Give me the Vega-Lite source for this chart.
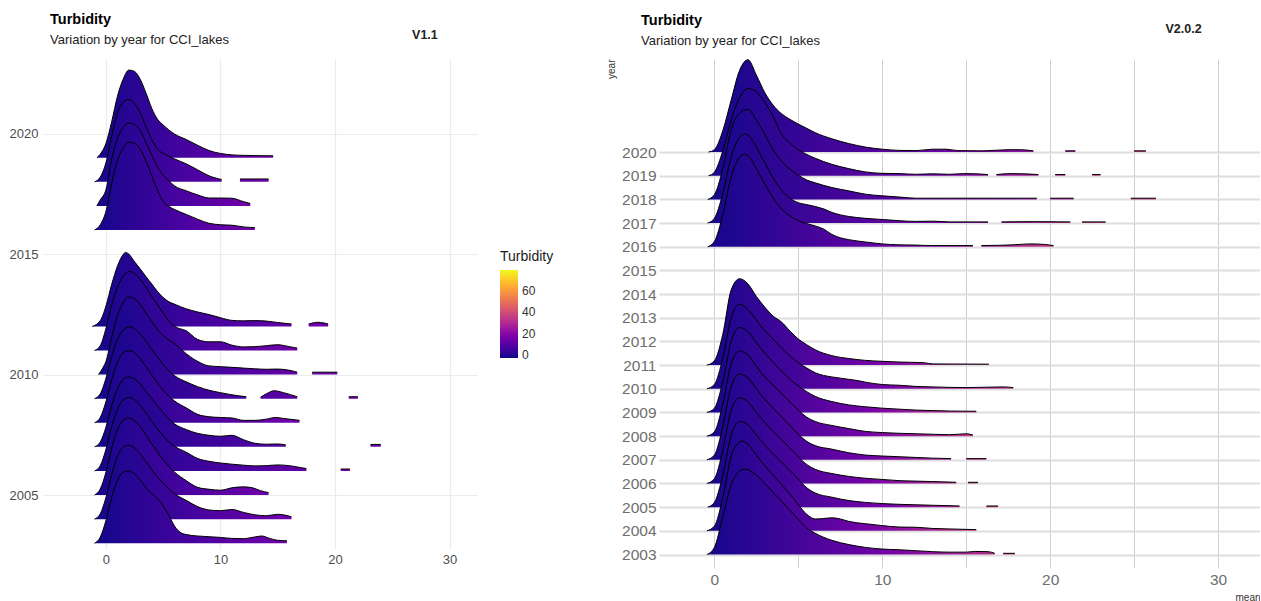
{
  "$schema": "https://vega.github.io/schema/vega-lite/v6.json",
  "background": "white",
  "padding": {"left": 9, "top": 12, "right": 0, "bottom": 0},
  "config": {
    "font": "Liberation Sans",
    "view": {"stroke": null},
    "axis": {"ticks": false, "domain": false, "labelOverlap": false},
    "title": {"color": "#000000", "subtitleColor": "#222222", "fontSize": 14.5, "subtitleFontSize": 13, "subtitlePadding": 6, "fontWeight": "bold", "subtitleFontWeight": "normal"}
  },
  "datasets": {
    "v11": [
      {"year":2019,"mean":-0.8,"top":2019},{"year":2019,"mean":-0.5,"top":2019.15},{"year":2019,"mean":0,"top":2019.6},{"year":2019,"mean":0.5,"top":2020.5},{"year":2019,"mean":1,"top":2021.55},{"year":2019,"mean":1.5,"top":2022.26},{"year":2019,"mean":2,"top":2022.64},{"year":2019,"mean":2.5,"top":2022.58},{"year":2019,"mean":3,"top":2022.25},{"year":2019,"mean":3.5,"top":2021.68},{"year":2019,"mean":4,"top":2021.05},{"year":2019,"mean":4.5,"top":2020.6},{"year":2019,"mean":5,"top":2020.36},{"year":2019,"mean":5.5,"top":2020.15},{"year":2019,"mean":6,"top":2019.98},{"year":2019,"mean":7,"top":2019.76},{"year":2019,"mean":8,"top":2019.52},{"year":2019,"mean":9,"top":2019.3},{"year":2019,"mean":10,"top":2019.18},{"year":2019,"mean":11,"top":2019.12},{"year":2019,"mean":12,"top":2019.1},{"year":2019,"mean":13,"top":2019.09},{"year":2019,"mean":14.6,"top":2019.08},
      {"year":2018,"mean":-1,"top":2018},{"year":2018,"mean":-0.5,"top":2018.2},{"year":2018,"mean":0,"top":2018.8},{"year":2018,"mean":0.5,"top":2019.9},{"year":2018,"mean":1,"top":2020.85},{"year":2018,"mean":1.5,"top":2021.3},{"year":2018,"mean":2,"top":2021.41},{"year":2018,"mean":2.5,"top":2021.25},{"year":2018,"mean":3,"top":2020.85},{"year":2018,"mean":3.5,"top":2020.28},{"year":2018,"mean":4,"top":2019.75},{"year":2018,"mean":4.5,"top":2019.36},{"year":2018,"mean":5,"top":2019.18},{"year":2018,"mean":5.5,"top":2019.06},{"year":2018,"mean":6,"top":2018.95},{"year":2018,"mean":7,"top":2018.75},{"year":2018,"mean":8,"top":2018.5},{"year":2018,"mean":9,"top":2018.25},{"year":2018,"mean":10.1,"top":2018.1},{"year":2018,"mean":10.9,"top":null},{"year":2018,"mean":11.7,"top":2018.12},{"year":2018,"mean":14.2,"top":2018.12},
      {"year":2017,"mean":-0.8,"top":2017},{"year":2017,"mean":-0.5,"top":2017.25},{"year":2017,"mean":0,"top":2017.68},{"year":2017,"mean":0.5,"top":2018.95},{"year":2017,"mean":1,"top":2019.8},{"year":2017,"mean":1.5,"top":2020.27},{"year":2017,"mean":2,"top":2020.44},{"year":2017,"mean":2.5,"top":2020.38},{"year":2017,"mean":3,"top":2020.12},{"year":2017,"mean":3.5,"top":2019.62},{"year":2017,"mean":4,"top":2019.1},{"year":2017,"mean":4.5,"top":2018.62},{"year":2017,"mean":5,"top":2018.28},{"year":2017,"mean":5.5,"top":2018.04},{"year":2017,"mean":6,"top":2017.83},{"year":2017,"mean":7,"top":2017.63},{"year":2017,"mean":8,"top":2017.46},{"year":2017,"mean":9,"top":2017.33},{"year":2017,"mean":10,"top":2017.33},{"year":2017,"mean":11,"top":2017.32},{"year":2017,"mean":12,"top":2017.18},{"year":2017,"mean":12.6,"top":2017.1},
      {"year":2016,"mean":-1,"top":2016},{"year":2016,"mean":-0.5,"top":2016.22},{"year":2016,"mean":0,"top":2016.78},{"year":2016,"mean":0.5,"top":2017.95},{"year":2016,"mean":1,"top":2018.9},{"year":2016,"mean":1.5,"top":2019.4},{"year":2016,"mean":2,"top":2019.65},{"year":2016,"mean":2.5,"top":2019.6},{"year":2016,"mean":3,"top":2019.35},{"year":2016,"mean":3.5,"top":2018.85},{"year":2016,"mean":4,"top":2018.25},{"year":2016,"mean":4.5,"top":2017.65},{"year":2016,"mean":5,"top":2017.18},{"year":2016,"mean":5.5,"top":2016.98},{"year":2016,"mean":6,"top":2016.85},{"year":2016,"mean":7,"top":2016.65},{"year":2016,"mean":8,"top":2016.45},{"year":2016,"mean":9,"top":2016.28},{"year":2016,"mean":10,"top":2016.22},{"year":2016,"mean":11,"top":2016.2},{"year":2016,"mean":12,"top":2016.13},{"year":2016,"mean":13,"top":2016.1},
      {"year":2012,"mean":-1.2,"top":2012},{"year":2012,"mean":-0.5,"top":2012.24},{"year":2012,"mean":0,"top":2012.85},{"year":2012,"mean":0.5,"top":2013.75},{"year":2012,"mean":1,"top":2014.5},{"year":2012,"mean":1.5,"top":2014.98},{"year":2012,"mean":1.7,"top":2015.07},{"year":2012,"mean":2,"top":2015},{"year":2012,"mean":2.5,"top":2014.68},{"year":2012,"mean":3,"top":2014.38},{"year":2012,"mean":3.5,"top":2014.06},{"year":2012,"mean":4,"top":2013.76},{"year":2012,"mean":4.5,"top":2013.45},{"year":2012,"mean":5,"top":2013.2},{"year":2012,"mean":5.5,"top":2013.02},{"year":2012,"mean":6,"top":2012.92},{"year":2012,"mean":7,"top":2012.73},{"year":2012,"mean":8,"top":2012.6},{"year":2012,"mean":9,"top":2012.49},{"year":2012,"mean":10,"top":2012.36},{"year":2012,"mean":11,"top":2012.25},{"year":2012,"mean":12,"top":2012.23},{"year":2012,"mean":13,"top":2012.24},{"year":2012,"mean":14,"top":2012.22},{"year":2012,"mean":15,"top":2012.16},{"year":2012,"mean":16.2,"top":2012.1},{"year":2012,"mean":17,"top":null},{"year":2012,"mean":17.7,"top":2012.1},{"year":2012,"mean":18.5,"top":2012.17},{"year":2012,"mean":19.4,"top":2012.1},
      {"year":2011,"mean":-1,"top":2011},{"year":2011,"mean":-0.5,"top":2011.2},{"year":2011,"mean":0,"top":2011.92},{"year":2011,"mean":0.5,"top":2012.9},{"year":2011,"mean":1,"top":2013.62},{"year":2011,"mean":1.5,"top":2014.08},{"year":2011,"mean":2,"top":2014.28},{"year":2011,"mean":2.5,"top":2014.2},{"year":2011,"mean":3,"top":2013.95},{"year":2011,"mean":3.5,"top":2013.62},{"year":2011,"mean":4,"top":2013.23},{"year":2011,"mean":4.5,"top":2012.9},{"year":2011,"mean":5,"top":2012.54},{"year":2011,"mean":5.5,"top":2012.21},{"year":2011,"mean":6,"top":2012},{"year":2011,"mean":7,"top":2011.82},{"year":2011,"mean":8,"top":2011.46},{"year":2011,"mean":9,"top":2011.36},{"year":2011,"mean":10,"top":2011.36},{"year":2011,"mean":11,"top":2011.22},{"year":2011,"mean":12,"top":2011.15},{"year":2011,"mean":13,"top":2011.16},{"year":2011,"mean":14,"top":2011.2},{"year":2011,"mean":15,"top":2011.24},{"year":2011,"mean":16,"top":2011.16},{"year":2011,"mean":16.7,"top":2011.1},
      {"year":2010,"mean":-0.65,"top":2010},{"year":2010,"mean":-0.25,"top":2010.3},{"year":2010,"mean":0,"top":2010.55},{"year":2010,"mean":0.5,"top":2011.54},{"year":2010,"mean":1,"top":2012.45},{"year":2010,"mean":1.5,"top":2013},{"year":2010,"mean":2,"top":2013.22},{"year":2010,"mean":2.5,"top":2013.15},{"year":2010,"mean":3,"top":2012.9},{"year":2010,"mean":3.5,"top":2012.55},{"year":2010,"mean":4,"top":2012.2},{"year":2010,"mean":4.5,"top":2011.86},{"year":2010,"mean":5,"top":2011.62},{"year":2010,"mean":5.5,"top":2011.44},{"year":2010,"mean":6,"top":2011.28},{"year":2010,"mean":7,"top":2010.87},{"year":2010,"mean":8,"top":2010.55},{"year":2010,"mean":9,"top":2010.36},{"year":2010,"mean":10,"top":2010.33},{"year":2010,"mean":11,"top":2010.3},{"year":2010,"mean":12,"top":2010.27},{"year":2010,"mean":13,"top":2010.24},{"year":2010,"mean":14,"top":2010.22},{"year":2010,"mean":15,"top":2010.23},{"year":2010,"mean":16,"top":2010.18},{"year":2010,"mean":16.7,"top":2010.1},{"year":2010,"mean":17.3,"top":null},{"year":2010,"mean":18,"top":2010.1},{"year":2010,"mean":20.2,"top":2010.1},
      {"year":2009,"mean":-1,"top":2009},{"year":2009,"mean":-0.5,"top":2009.2},{"year":2009,"mean":0,"top":2009.85},{"year":2009,"mean":0.5,"top":2010.75},{"year":2009,"mean":1,"top":2011.45},{"year":2009,"mean":1.5,"top":2011.85},{"year":2009,"mean":2,"top":2011.98},{"year":2009,"mean":2.5,"top":2011.9},{"year":2009,"mean":3,"top":2011.68},{"year":2009,"mean":3.5,"top":2011.38},{"year":2009,"mean":4,"top":2011.05},{"year":2009,"mean":4.5,"top":2010.72},{"year":2009,"mean":5,"top":2010.42},{"year":2009,"mean":5.5,"top":2010.15},{"year":2009,"mean":6,"top":2009.95},{"year":2009,"mean":7,"top":2009.7},{"year":2009,"mean":8,"top":2009.5},{"year":2009,"mean":9,"top":2009.35},{"year":2009,"mean":10,"top":2009.25},{"year":2009,"mean":11,"top":2009.16},{"year":2009,"mean":12.25,"top":2009.08},{"year":2009,"mean":12.9,"top":null},{"year":2009,"mean":13.5,"top":2009.06},{"year":2009,"mean":14,"top":2009.2},{"year":2009,"mean":14.7,"top":2009.33},{"year":2009,"mean":15.5,"top":2009.25},{"year":2009,"mean":16.7,"top":2009.08},{"year":2009,"mean":19,"top":null},{"year":2009,"mean":21.2,"top":2009.08},{"year":2009,"mean":22,"top":2009.08},
      {"year":2008,"mean":-1,"top":2008},{"year":2008,"mean":-0.5,"top":2008.22},{"year":2008,"mean":0,"top":2008.88},{"year":2008,"mean":0.5,"top":2009.8},{"year":2008,"mean":1,"top":2010.5},{"year":2008,"mean":1.5,"top":2010.9},{"year":2008,"mean":2,"top":2010.99},{"year":2008,"mean":2.5,"top":2010.9},{"year":2008,"mean":3,"top":2010.65},{"year":2008,"mean":3.5,"top":2010.32},{"year":2008,"mean":4,"top":2009.98},{"year":2008,"mean":4.5,"top":2009.65},{"year":2008,"mean":5,"top":2009.35},{"year":2008,"mean":5.5,"top":2009.1},{"year":2008,"mean":6,"top":2008.9},{"year":2008,"mean":7,"top":2008.62},{"year":2008,"mean":8,"top":2008.35},{"year":2008,"mean":9,"top":2008.25},{"year":2008,"mean":10,"top":2008.22},{"year":2008,"mean":11,"top":2008.2},{"year":2008,"mean":12,"top":2008.1},{"year":2008,"mean":13,"top":2008.1},{"year":2008,"mean":14,"top":2008.15},{"year":2008,"mean":14.8,"top":2008.22},{"year":2008,"mean":15.5,"top":2008.18},{"year":2008,"mean":16.9,"top":2008.1},
      {"year":2007,"mean":-1,"top":2007},{"year":2007,"mean":-0.5,"top":2007.2},{"year":2007,"mean":0,"top":2007.82},{"year":2007,"mean":0.5,"top":2008.72},{"year":2007,"mean":1,"top":2009.4},{"year":2007,"mean":1.5,"top":2009.8},{"year":2007,"mean":2,"top":2009.9},{"year":2007,"mean":2.5,"top":2009.82},{"year":2007,"mean":3,"top":2009.6},{"year":2007,"mean":3.5,"top":2009.3},{"year":2007,"mean":4,"top":2009},{"year":2007,"mean":4.5,"top":2008.7},{"year":2007,"mean":5,"top":2008.42},{"year":2007,"mean":5.5,"top":2008.15},{"year":2007,"mean":6,"top":2007.95},{"year":2007,"mean":7,"top":2007.72},{"year":2007,"mean":8,"top":2007.56},{"year":2007,"mean":9,"top":2007.48},{"year":2007,"mean":10,"top":2007.44},{"year":2007,"mean":11,"top":2007.48},{"year":2007,"mean":12,"top":2007.3},{"year":2007,"mean":13,"top":2007.15},{"year":2007,"mean":14,"top":2007.11},{"year":2007,"mean":15,"top":2007.12},{"year":2007,"mean":15.7,"top":2007.08},{"year":2007,"mean":20,"top":null},{"year":2007,"mean":23.1,"top":2007.1},{"year":2007,"mean":24,"top":2007.1},
      {"year":2006,"mean":-1,"top":2006},{"year":2006,"mean":-0.5,"top":2006.22},{"year":2006,"mean":0,"top":2006.9},{"year":2006,"mean":0.5,"top":2007.85},{"year":2006,"mean":1,"top":2008.55},{"year":2006,"mean":1.5,"top":2008.95},{"year":2006,"mean":2,"top":2009.05},{"year":2006,"mean":2.5,"top":2008.96},{"year":2006,"mean":3,"top":2008.72},{"year":2006,"mean":3.5,"top":2008.4},{"year":2006,"mean":4,"top":2008.06},{"year":2006,"mean":4.5,"top":2007.74},{"year":2006,"mean":5,"top":2007.45},{"year":2006,"mean":5.5,"top":2007.2},{"year":2006,"mean":6,"top":2007.02},{"year":2006,"mean":7,"top":2006.78},{"year":2006,"mean":8,"top":2006.52},{"year":2006,"mean":9,"top":2006.4},{"year":2006,"mean":10,"top":2006.33},{"year":2006,"mean":11,"top":2006.28},{"year":2006,"mean":12,"top":2006.24},{"year":2006,"mean":13,"top":2006.21},{"year":2006,"mean":14,"top":2006.22},{"year":2006,"mean":15,"top":2006.25},{"year":2006,"mean":16,"top":2006.22},{"year":2006,"mean":17,"top":2006.14},{"year":2006,"mean":17.5,"top":2006.1},{"year":2006,"mean":19,"top":null},{"year":2006,"mean":20.5,"top":2006.08},{"year":2006,"mean":21.3,"top":2006.08},
      {"year":2005,"mean":-1,"top":2005},{"year":2005,"mean":-0.5,"top":2005.25},{"year":2005,"mean":0,"top":2005.95},{"year":2005,"mean":0.5,"top":2006.95},{"year":2005,"mean":1,"top":2007.7},{"year":2005,"mean":1.5,"top":2008.1},{"year":2005,"mean":2,"top":2008.19},{"year":2005,"mean":2.5,"top":2008.08},{"year":2005,"mean":3,"top":2007.82},{"year":2005,"mean":3.5,"top":2007.48},{"year":2005,"mean":4,"top":2007.12},{"year":2005,"mean":4.5,"top":2006.78},{"year":2005,"mean":5,"top":2006.46},{"year":2005,"mean":5.5,"top":2006.18},{"year":2005,"mean":6,"top":2005.95},{"year":2005,"mean":7,"top":2005.6},{"year":2005,"mean":8,"top":2005.32},{"year":2005,"mean":9,"top":2005.24},{"year":2005,"mean":10,"top":2005.2},{"year":2005,"mean":11,"top":2005.3},{"year":2005,"mean":12,"top":2005.34},{"year":2005,"mean":12.8,"top":2005.3},{"year":2005,"mean":13.5,"top":2005.18},{"year":2005,"mean":14.2,"top":2005.1},
      {"year":2004,"mean":-1,"top":2004},{"year":2004,"mean":-0.5,"top":2004.22},{"year":2004,"mean":0,"top":2004.9},{"year":2004,"mean":0.5,"top":2005.85},{"year":2004,"mean":1,"top":2006.6},{"year":2004,"mean":1.5,"top":2006.98},{"year":2004,"mean":2,"top":2007.07},{"year":2004,"mean":2.5,"top":2006.95},{"year":2004,"mean":3,"top":2006.7},{"year":2004,"mean":3.5,"top":2006.38},{"year":2004,"mean":4,"top":2006.05},{"year":2004,"mean":4.5,"top":2005.75},{"year":2004,"mean":5,"top":2005.5},{"year":2004,"mean":5.5,"top":2005.25},{"year":2004,"mean":6,"top":2005.05},{"year":2004,"mean":7,"top":2004.78},{"year":2004,"mean":8,"top":2004.52},{"year":2004,"mean":9,"top":2004.38},{"year":2004,"mean":10,"top":2004.35},{"year":2004,"mean":11,"top":2004.4},{"year":2004,"mean":12,"top":2004.28},{"year":2004,"mean":13,"top":2004.18},{"year":2004,"mean":14,"top":2004.14},{"year":2004,"mean":15,"top":2004.2},{"year":2004,"mean":16.2,"top":2004.1},
      {"year":2003,"mean":-1,"top":2003},{"year":2003,"mean":-0.5,"top":2003.25},{"year":2003,"mean":0,"top":2003.95},{"year":2003,"mean":0.5,"top":2004.9},{"year":2003,"mean":1,"top":2005.6},{"year":2003,"mean":1.5,"top":2005.95},{"year":2003,"mean":2,"top":2006},{"year":2003,"mean":2.5,"top":2005.88},{"year":2003,"mean":3,"top":2005.62},{"year":2003,"mean":3.5,"top":2005.3},{"year":2003,"mean":4,"top":2005.05},{"year":2003,"mean":4.5,"top":2004.85},{"year":2003,"mean":5,"top":2004.55},{"year":2003,"mean":5.5,"top":2004.15},{"year":2003,"mean":6,"top":2003.7},{"year":2003,"mean":6.6,"top":2003.42},{"year":2003,"mean":7,"top":2003.36},{"year":2003,"mean":8,"top":2003.3},{"year":2003,"mean":9,"top":2003.27},{"year":2003,"mean":10,"top":2003.24},{"year":2003,"mean":11,"top":2003.2},{"year":2003,"mean":12,"top":2003.19},{"year":2003,"mean":13,"top":2003.26},{"year":2003,"mean":13.6,"top":2003.3},{"year":2003,"mean":14.3,"top":2003.2},{"year":2003,"mean":15,"top":2003.12},{"year":2003,"mean":15.8,"top":2003.1}
    ],
    "v202": [
      {"year":2020,"mean":-0.35,"top":2020},{"year":2020,"mean":0,"top":2020.1},{"year":2020,"mean":0.5,"top":2020.9},{"year":2020,"mean":1,"top":2022.2},{"year":2020,"mean":1.5,"top":2023.45},{"year":2020,"mean":2,"top":2023.9},{"year":2020,"mean":2.5,"top":2023.25},{"year":2020,"mean":3,"top":2022.51},{"year":2020,"mean":3.5,"top":2021.98},{"year":2020,"mean":4,"top":2021.62},{"year":2020,"mean":4.5,"top":2021.38},{"year":2020,"mean":5,"top":2021.18},{"year":2020,"mean":5.5,"top":2021},{"year":2020,"mean":6,"top":2020.82},{"year":2020,"mean":7,"top":2020.56},{"year":2020,"mean":8,"top":2020.36},{"year":2020,"mean":9,"top":2020.21},{"year":2020,"mean":10,"top":2020.12},{"year":2020,"mean":11,"top":2020.07},{"year":2020,"mean":12,"top":2020.06},{"year":2020,"mean":13,"top":2020.12},{"year":2020,"mean":13.8,"top":2020.12},{"year":2020,"mean":14.5,"top":2020.06},{"year":2020,"mean":16,"top":2020.05},{"year":2020,"mean":17.5,"top":2020.1},{"year":2020,"mean":18.2,"top":2020.1},{"year":2020,"mean":19,"top":2020.05},{"year":2020,"mean":20,"top":null},{"year":2020,"mean":20.9,"top":2020.05},{"year":2020,"mean":21.5,"top":2020.05},{"year":2020,"mean":23,"top":null},{"year":2020,"mean":25,"top":2020.05},{"year":2020,"mean":25.7,"top":2020.05},
      {"year":2019,"mean":-0.35,"top":2019},{"year":2019,"mean":0,"top":2019.15},{"year":2019,"mean":0.5,"top":2020.05},{"year":2019,"mean":1,"top":2021.35},{"year":2019,"mean":1.5,"top":2022.3},{"year":2019,"mean":2,"top":2022.68},{"year":2019,"mean":2.5,"top":2022.55},{"year":2019,"mean":3,"top":2022.1},{"year":2019,"mean":3.5,"top":2021.5},{"year":2019,"mean":4,"top":2020.75},{"year":2019,"mean":4.5,"top":2020.38},{"year":2019,"mean":5,"top":2020.1},{"year":2019,"mean":5.5,"top":2019.9},{"year":2019,"mean":6,"top":2019.74},{"year":2019,"mean":7,"top":2019.48},{"year":2019,"mean":8,"top":2019.3},{"year":2019,"mean":9,"top":2019.16},{"year":2019,"mean":10,"top":2019.1},{"year":2019,"mean":11,"top":2019.09},{"year":2019,"mean":12,"top":2019.06},{"year":2019,"mean":13,"top":2019.08},{"year":2019,"mean":14,"top":2019.06},{"year":2019,"mean":15,"top":2019.09},{"year":2019,"mean":16.3,"top":2019.05},{"year":2019,"mean":16.55,"top":null},{"year":2019,"mean":16.8,"top":2019.05},{"year":2019,"mean":17.7,"top":2019.09},{"year":2019,"mean":19.3,"top":2019.05},{"year":2019,"mean":19.8,"top":null},{"year":2019,"mean":20.3,"top":2019.05},{"year":2019,"mean":20.9,"top":2019.05},{"year":2019,"mean":21.7,"top":null},{"year":2019,"mean":22.5,"top":2019.05},{"year":2019,"mean":23,"top":2019.05},
      {"year":2018,"mean":-0.4,"top":2018},{"year":2018,"mean":0,"top":2018.2},{"year":2018,"mean":0.5,"top":2019.3},{"year":2018,"mean":1,"top":2020.95},{"year":2018,"mean":1.5,"top":2021.65},{"year":2018,"mean":2,"top":2021.8},{"year":2018,"mean":2.5,"top":2021.35},{"year":2018,"mean":3,"top":2020.75},{"year":2018,"mean":3.5,"top":2020.1},{"year":2018,"mean":4,"top":2019.62},{"year":2018,"mean":4.5,"top":2019.28},{"year":2018,"mean":5,"top":2019.02},{"year":2018,"mean":5.5,"top":2018.82},{"year":2018,"mean":6,"top":2018.7},{"year":2018,"mean":7,"top":2018.5},{"year":2018,"mean":8,"top":2018.36},{"year":2018,"mean":9,"top":2018.22},{"year":2018,"mean":10,"top":2018.15},{"year":2018,"mean":11,"top":2018.1},{"year":2018,"mean":12,"top":2018.05},{"year":2018,"mean":14,"top":2018.05},{"year":2018,"mean":17,"top":2018.05},{"year":2018,"mean":19.2,"top":2018.05},{"year":2018,"mean":19.6,"top":null},{"year":2018,"mean":20,"top":2018.05},{"year":2018,"mean":21.4,"top":2018.05},{"year":2018,"mean":23,"top":null},{"year":2018,"mean":24.8,"top":2018.05},{"year":2018,"mean":26.3,"top":2018.05},
      {"year":2017,"mean":-0.4,"top":2017},{"year":2017,"mean":0,"top":2017.2},{"year":2017,"mean":0.5,"top":2018.25},{"year":2017,"mean":1,"top":2019.8},{"year":2017,"mean":1.5,"top":2020.62},{"year":2017,"mean":1.8,"top":2020.77},{"year":2017,"mean":2,"top":2020.72},{"year":2017,"mean":2.5,"top":2020.2},{"year":2017,"mean":3,"top":2019.55},{"year":2017,"mean":3.5,"top":2018.9},{"year":2017,"mean":4,"top":2018.38},{"year":2017,"mean":4.5,"top":2018.05},{"year":2017,"mean":5,"top":2017.86},{"year":2017,"mean":5.5,"top":2017.78},{"year":2017,"mean":6,"top":2017.7},{"year":2017,"mean":6.5,"top":2017.6},{"year":2017,"mean":7,"top":2017.45},{"year":2017,"mean":8,"top":2017.28},{"year":2017,"mean":9,"top":2017.2},{"year":2017,"mean":10,"top":2017.15},{"year":2017,"mean":11,"top":2017.1},{"year":2017,"mean":12,"top":2017.07},{"year":2017,"mean":13,"top":2017.08},{"year":2017,"mean":14,"top":2017.05},{"year":2017,"mean":16.3,"top":2017.05},{"year":2017,"mean":16.7,"top":null},{"year":2017,"mean":17.1,"top":2017.05},{"year":2017,"mean":19,"top":2017.06},{"year":2017,"mean":21.2,"top":2017.05},{"year":2017,"mean":21.55,"top":null},{"year":2017,"mean":21.9,"top":2017.05},{"year":2017,"mean":23.3,"top":2017.05},
      {"year":2016,"mean":-0.4,"top":2016},{"year":2016,"mean":0,"top":2016.22},{"year":2016,"mean":0.5,"top":2017.35},{"year":2016,"mean":1,"top":2018.95},{"year":2016,"mean":1.5,"top":2019.78},{"year":2016,"mean":1.8,"top":2019.9},{"year":2016,"mean":2,"top":2019.85},{"year":2016,"mean":2.5,"top":2019.3},{"year":2016,"mean":3,"top":2018.65},{"year":2016,"mean":3.5,"top":2018.05},{"year":2016,"mean":4,"top":2017.6},{"year":2016,"mean":4.5,"top":2017.3},{"year":2016,"mean":5,"top":2017.1},{"year":2016,"mean":5.5,"top":2016.98},{"year":2016,"mean":6,"top":2016.88},{"year":2016,"mean":6.5,"top":2016.75},{"year":2016,"mean":7,"top":2016.52},{"year":2016,"mean":7.5,"top":2016.38},{"year":2016,"mean":8,"top":2016.3},{"year":2016,"mean":9,"top":2016.2},{"year":2016,"mean":10,"top":2016.12},{"year":2016,"mean":11,"top":2016.08},{"year":2016,"mean":12,"top":2016.07},{"year":2016,"mean":13,"top":2016.05},{"year":2016,"mean":15.4,"top":2016.05},{"year":2016,"mean":15.65,"top":null},{"year":2016,"mean":15.9,"top":2016.05},{"year":2016,"mean":17.8,"top":2016.08},{"year":2016,"mean":18.8,"top":2016.12},{"year":2016,"mean":19.6,"top":2016.1},{"year":2016,"mean":20.2,"top":2016.05},
      {"year":2011,"mean":-0.45,"top":2011},{"year":2011,"mean":0,"top":2011.18},{"year":2011,"mean":0.5,"top":2012.3},{"year":2011,"mean":1,"top":2014.18},{"year":2011,"mean":1.5,"top":2014.65},{"year":2011,"mean":2,"top":2014.43},{"year":2011,"mean":2.5,"top":2013.9},{"year":2011,"mean":3,"top":2013.45},{"year":2011,"mean":3.5,"top":2013.07},{"year":2011,"mean":4,"top":2012.82},{"year":2011,"mean":4.5,"top":2012.44},{"year":2011,"mean":5,"top":2012.1},{"year":2011,"mean":5.5,"top":2011.86},{"year":2011,"mean":6,"top":2011.65},{"year":2011,"mean":7,"top":2011.4},{"year":2011,"mean":8,"top":2011.28},{"year":2011,"mean":9,"top":2011.2},{"year":2011,"mean":10,"top":2011.16},{"year":2011,"mean":11,"top":2011.13},{"year":2011,"mean":12.5,"top":2011.1},{"year":2011,"mean":13,"top":2011.05},{"year":2011,"mean":16.35,"top":2011.04},
      {"year":2010,"mean":-0.45,"top":2010},{"year":2010,"mean":0,"top":2010.18},{"year":2010,"mean":0.5,"top":2011.3},{"year":2010,"mean":1,"top":2013},{"year":2010,"mean":1.5,"top":2013.57},{"year":2010,"mean":2,"top":2013.35},{"year":2010,"mean":2.5,"top":2012.9},{"year":2010,"mean":3,"top":2012.45},{"year":2010,"mean":3.5,"top":2012.1},{"year":2010,"mean":4,"top":2011.72},{"year":2010,"mean":4.5,"top":2011.38},{"year":2010,"mean":5,"top":2011.1},{"year":2010,"mean":5.5,"top":2010.88},{"year":2010,"mean":6,"top":2010.68},{"year":2010,"mean":7,"top":2010.5},{"year":2010,"mean":7.5,"top":2010.45},{"year":2010,"mean":8,"top":2010.4},{"year":2010,"mean":8.5,"top":2010.35},{"year":2010,"mean":9,"top":2010.28},{"year":2010,"mean":10,"top":2010.18},{"year":2010,"mean":11,"top":2010.15},{"year":2010,"mean":12,"top":2010.1},{"year":2010,"mean":13,"top":2010.08},{"year":2010,"mean":14,"top":2010.06},{"year":2010,"mean":15,"top":2010.05},{"year":2010,"mean":17.2,"top":2010.08},{"year":2010,"mean":17.8,"top":2010.05},
      {"year":2009,"mean":-0.45,"top":2009},{"year":2009,"mean":0,"top":2009.18},{"year":2009,"mean":0.5,"top":2010.3},{"year":2009,"mean":1,"top":2012},{"year":2009,"mean":1.5,"top":2012.59},{"year":2009,"mean":2,"top":2012.4},{"year":2009,"mean":2.5,"top":2011.95},{"year":2009,"mean":3,"top":2011.5},{"year":2009,"mean":3.5,"top":2011.12},{"year":2009,"mean":4,"top":2010.75},{"year":2009,"mean":4.5,"top":2010.4},{"year":2009,"mean":5,"top":2010.12},{"year":2009,"mean":5.5,"top":2009.88},{"year":2009,"mean":6,"top":2009.68},{"year":2009,"mean":7,"top":2009.46},{"year":2009,"mean":8,"top":2009.32},{"year":2009,"mean":9,"top":2009.24},{"year":2009,"mean":10,"top":2009.18},{"year":2009,"mean":11,"top":2009.14},{"year":2009,"mean":12,"top":2009.1},{"year":2009,"mean":13,"top":2009.08},{"year":2009,"mean":14,"top":2009.06},{"year":2009,"mean":15.6,"top":2009.05},
      {"year":2008,"mean":-0.45,"top":2008},{"year":2008,"mean":0,"top":2008.18},{"year":2008,"mean":0.5,"top":2009.35},{"year":2008,"mean":1,"top":2011.05},{"year":2008,"mean":1.5,"top":2011.6},{"year":2008,"mean":2,"top":2011.42},{"year":2008,"mean":2.5,"top":2010.95},{"year":2008,"mean":3,"top":2010.5},{"year":2008,"mean":3.5,"top":2010.15},{"year":2008,"mean":4,"top":2009.8},{"year":2008,"mean":4.5,"top":2009.45},{"year":2008,"mean":5,"top":2009.1},{"year":2008,"mean":5.5,"top":2008.8},{"year":2008,"mean":6,"top":2008.62},{"year":2008,"mean":7,"top":2008.45},{"year":2008,"mean":8,"top":2008.32},{"year":2008,"mean":9,"top":2008.2},{"year":2008,"mean":10,"top":2008.15},{"year":2008,"mean":11,"top":2008.12},{"year":2008,"mean":12,"top":2008.1},{"year":2008,"mean":13,"top":2008.08},{"year":2008,"mean":14,"top":2008.06},{"year":2008,"mean":15,"top":2008.1},{"year":2008,"mean":15.4,"top":2008.05},
      {"year":2007,"mean":-0.45,"top":2007},{"year":2007,"mean":0,"top":2007.2},{"year":2007,"mean":0.5,"top":2008.4},{"year":2007,"mean":1,"top":2010.1},{"year":2007,"mean":1.5,"top":2010.62},{"year":2007,"mean":2,"top":2010.45},{"year":2007,"mean":2.5,"top":2010},{"year":2007,"mean":3,"top":2009.55},{"year":2007,"mean":3.5,"top":2009.18},{"year":2007,"mean":4,"top":2008.82},{"year":2007,"mean":4.5,"top":2008.45},{"year":2007,"mean":5,"top":2008.08},{"year":2007,"mean":5.5,"top":2007.78},{"year":2007,"mean":6,"top":2007.6},{"year":2007,"mean":7,"top":2007.45},{"year":2007,"mean":8,"top":2007.3},{"year":2007,"mean":9,"top":2007.2},{"year":2007,"mean":10,"top":2007.16},{"year":2007,"mean":11,"top":2007.13},{"year":2007,"mean":12,"top":2007.1},{"year":2007,"mean":13,"top":2007.07},{"year":2007,"mean":14.1,"top":2007.05},{"year":2007,"mean":14.55,"top":null},{"year":2007,"mean":15,"top":2007.05},{"year":2007,"mean":16.2,"top":2007.05},
      {"year":2006,"mean":-0.45,"top":2006},{"year":2006,"mean":0,"top":2006.2},{"year":2006,"mean":0.5,"top":2007.4},{"year":2006,"mean":1,"top":2009.1},{"year":2006,"mean":1.5,"top":2009.62},{"year":2006,"mean":2,"top":2009.45},{"year":2006,"mean":2.5,"top":2009},{"year":2006,"mean":3,"top":2008.58},{"year":2006,"mean":3.5,"top":2008.2},{"year":2006,"mean":4,"top":2007.85},{"year":2006,"mean":4.5,"top":2007.5},{"year":2006,"mean":5,"top":2007.12},{"year":2006,"mean":5.5,"top":2006.8},{"year":2006,"mean":6,"top":2006.6},{"year":2006,"mean":7,"top":2006.42},{"year":2006,"mean":8,"top":2006.3},{"year":2006,"mean":9,"top":2006.22},{"year":2006,"mean":10,"top":2006.17},{"year":2006,"mean":11,"top":2006.12},{"year":2006,"mean":12,"top":2006.1},{"year":2006,"mean":13,"top":2006.08},{"year":2006,"mean":14.4,"top":2006.05},{"year":2006,"mean":14.75,"top":null},{"year":2006,"mean":15.1,"top":2006.05},{"year":2006,"mean":15.7,"top":2006.05},
      {"year":2005,"mean":-0.4,"top":2005},{"year":2005,"mean":0,"top":2005.2},{"year":2005,"mean":0.5,"top":2006.35},{"year":2005,"mean":1,"top":2008.05},{"year":2005,"mean":1.5,"top":2008.62},{"year":2005,"mean":2,"top":2008.48},{"year":2005,"mean":2.5,"top":2008.05},{"year":2005,"mean":3,"top":2007.62},{"year":2005,"mean":3.5,"top":2007.25},{"year":2005,"mean":4,"top":2006.9},{"year":2005,"mean":4.5,"top":2006.55},{"year":2005,"mean":5,"top":2006.18},{"year":2005,"mean":5.5,"top":2005.82},{"year":2005,"mean":6,"top":2005.6},{"year":2005,"mean":7,"top":2005.42},{"year":2005,"mean":8,"top":2005.28},{"year":2005,"mean":9,"top":2005.2},{"year":2005,"mean":10,"top":2005.15},{"year":2005,"mean":11,"top":2005.12},{"year":2005,"mean":12,"top":2005.1},{"year":2005,"mean":13,"top":2005.08},{"year":2005,"mean":14.6,"top":2005.05},{"year":2005,"mean":15.4,"top":null},{"year":2005,"mean":16.2,"top":2005.05},{"year":2005,"mean":16.9,"top":2005.05},
      {"year":2004,"mean":-0.45,"top":2004},{"year":2004,"mean":0,"top":2004.2},{"year":2004,"mean":0.5,"top":2005.4},{"year":2004,"mean":1,"top":2007.15},{"year":2004,"mean":1.5,"top":2007.75},{"year":2004,"mean":1.7,"top":2007.79},{"year":2004,"mean":2,"top":2007.65},{"year":2004,"mean":2.5,"top":2007.2},{"year":2004,"mean":3,"top":2006.75},{"year":2004,"mean":3.5,"top":2006.35},{"year":2004,"mean":4,"top":2005.95},{"year":2004,"mean":4.5,"top":2005.55},{"year":2004,"mean":5,"top":2005.1},{"year":2004,"mean":5.5,"top":2004.7},{"year":2004,"mean":6,"top":2004.5},{"year":2004,"mean":6.5,"top":2004.52},{"year":2004,"mean":7,"top":2004.55},{"year":2004,"mean":7.5,"top":2004.5},{"year":2004,"mean":8,"top":2004.4},{"year":2004,"mean":9,"top":2004.3},{"year":2004,"mean":10,"top":2004.22},{"year":2004,"mean":11,"top":2004.16},{"year":2004,"mean":12,"top":2004.15},{"year":2004,"mean":13,"top":2004.1},{"year":2004,"mean":14,"top":2004.08},{"year":2004,"mean":15.6,"top":2004.05},
      {"year":2003,"mean":-0.45,"top":2003},{"year":2003,"mean":0,"top":2003.3},{"year":2003,"mean":0.5,"top":2004.6},{"year":2003,"mean":1,"top":2005.95},{"year":2003,"mean":1.5,"top":2006.52},{"year":2003,"mean":1.8,"top":2006.6},{"year":2003,"mean":2,"top":2006.58},{"year":2003,"mean":2.5,"top":2006.35},{"year":2003,"mean":3,"top":2006},{"year":2003,"mean":3.5,"top":2005.62},{"year":2003,"mean":4,"top":2005.25},{"year":2003,"mean":4.5,"top":2004.86},{"year":2003,"mean":5,"top":2004.48},{"year":2003,"mean":5.5,"top":2004.12},{"year":2003,"mean":6,"top":2003.9},{"year":2003,"mean":7,"top":2003.6},{"year":2003,"mean":8,"top":2003.42},{"year":2003,"mean":9,"top":2003.3},{"year":2003,"mean":10,"top":2003.23},{"year":2003,"mean":11,"top":2003.2},{"year":2003,"mean":12,"top":2003.16},{"year":2003,"mean":13,"top":2003.12},{"year":2003,"mean":14,"top":2003.1},{"year":2003,"mean":15,"top":2003.1},{"year":2003,"mean":15.5,"top":2003.13},{"year":2003,"mean":16.3,"top":2003.12},{"year":2003,"mean":16.7,"top":2003.05},{"year":2003,"mean":16.95,"top":null},{"year":2003,"mean":17.2,"top":2003.05},{"year":2003,"mean":17.9,"top":2003.05}
    ]
  },
  "spacing": 129,
  "hconcat": [
    {
      "title": {"text": "V1.1", "anchor": "start", "frame": "bounds", "dx": 403, "offset": -29, "fontSize": 12.5, "fontWeight": "bold", "color": "#222222"},
      "vconcat": [
        {
          "width": 434,
          "height": 490,
          "title": {"text": "Turbidity", "subtitle": "Variation by year for CCI_lakes", "anchor": "start", "frame": "group", "dx": 7, "offset": 11.5},
          "data": {"name": "v11"},
          "layer": [
            {
              "mark": {"type": "area", "interpolate": "monotone", "invalid": "break-paths-filter-domains",
                "fill": {"gradient": "linear", "x1": 0, "y1": 0, "x2": 1, "y2": 0,
                  "stops": [{"offset": 0, "color": "#14078b"}, {"offset": 0.6, "color": "#4f02a2"}, {"offset": 1, "color": "#7101a8"}]}},
              "encoding": {
                "x": {"field": "mean", "type": "quantitative", "scale": {"domain": [-5.5, 32.4], "nice": false},
                  "axis": {"values": [0, 10, 20, 30], "tickCount": 10, "title": null, "gridColor": "#ebebeb", "gridWidth": 1.2, "labelFontSize": 13, "labelColor": "#4d4d4d", "labelPadding": 4, "labelOverlap": false}},
                "y": {"field": "top", "type": "quantitative", "scale": {"domain": [2002.76, 2023.1], "nice": false, "zero": false},
                  "axis": {"values": [2005, 2010, 2015, 2020], "tickCount": 10, "format": "d", "title": null, "gridColor": "#ebebeb", "gridWidth": 1.2, "labelFontSize": 13, "labelColor": "#4d4d4d", "labelPadding": 5, "labelOverlap": false}},
                "y2": {"field": "year"},
                "detail": {"field": "year", "type": "nominal"}
              }
            },
            {
              "mark": {"type": "line", "interpolate": "monotone", "invalid": "break-paths-filter-domains", "color": "#000000", "strokeWidth": 1},
              "encoding": {
                "x": {"field": "mean", "type": "quantitative"},
                "y": {"field": "top", "type": "quantitative"},
                "detail": {"field": "year", "type": "nominal"}
              }
            },
            {
              "mark": {"type": "point", "opacity": 0},
              "encoding": {
                "x": {"field": "mean", "type": "quantitative"},
                "y": {"field": "top", "type": "quantitative"},
                "color": {"field": "mean", "type": "quantitative",
                  "scale": {"scheme": "plasma", "domain": [-2.7, 79.7]},
                  "legend": {"title": "Turbidity", "orient": "none", "direction": "vertical", "legendX": 457, "legendY": 191,
                    "gradientLength": 88, "gradientThickness": 18, "values": [0, 20, 40, 60],
                    "titleFontSize": 14, "titleFontWeight": "normal", "titleColor": "#1a1a1a", "titlePadding": 6,
                    "labelFontSize": 12, "labelColor": "#333333", "labelOffset": 4}}
              }
            }
          ]
        }
      ]
    },
    {
      "title": {"text": "V2.0.2", "anchor": "start", "frame": "bounds", "dx": 559, "offset": -22.5, "fontSize": 12.5, "fontWeight": "bold", "color": "#222222"},
      "vconcat": [
        {
          "width": 601,
          "height": 509,
          "title": {"text": "Turbidity", "subtitle": "Variation by year for CCI_lakes", "anchor": "start", "frame": "group", "dx": -18, "dy": 2, "offset": 11},
          "data": {"name": "v202"},
          "layer": [
            {
              "mark": {"type": "area", "interpolate": "monotone", "invalid": "break-paths-filter-domains",
                "fill": {"gradient": "linear", "x1": 0, "y1": 0, "x2": 1, "y2": 0,
                  "stops": [{"offset": 0, "color": "#14078b"}, {"offset": 0.6, "color": "#7503a8"}, {"offset": 1, "color": "#c03a83"}]}},
              "encoding": {
                "x": {"field": "mean", "type": "quantitative", "scale": {"domain": [-3.3, 32.5], "nice": false},
                  "axis": {"values": [0, 5, 10, 15, 20, 25, 30], "tickCount": 20, "labelExpr": "datum.value % 10 == 0 ? datum.label : ''", "labelOverlap": false,
                    "title": "mean", "titleAnchor": "end", "titleFontSize": 10, "titleFontWeight": "normal", "titleColor": "#333333", "titlePadding": 5,
                    "gridColor": "#d0d0d0", "gridWidth": 1, "labelFontSize": 15.5, "labelColor": "#6e6e6e", "labelPadding": 4}},
                "y": {"field": "top", "type": "quantitative", "scale": {"domain": [2002.43, 2023.93], "nice": false, "zero": false},
                  "axis": {"values": [2003, 2004, 2005, 2006, 2007, 2008, 2009, 2010, 2011, 2012, 2013, 2014, 2015, 2016, 2017, 2018, 2019, 2020], "tickCount": 40, "format": "d", "labelOverlap": false,
                    "title": "year", "titleAnchor": "end", "titleFontSize": 10, "titleFontWeight": "normal", "titleColor": "#333333", "titlePadding": 5,
                    "gridColor": "#dedede", "gridWidth": 2, "labelFontSize": 15.5, "labelColor": "#6e6e6e", "labelPadding": 3}},
                "y2": {"field": "year"},
                "detail": {"field": "year", "type": "nominal"}
              }
            },
            {
              "mark": {"type": "line", "interpolate": "monotone", "invalid": "break-paths-filter-domains", "color": "#000000", "strokeWidth": 1},
              "encoding": {
                "x": {"field": "mean", "type": "quantitative"},
                "y": {"field": "top", "type": "quantitative"},
                "detail": {"field": "year", "type": "nominal"}
              }
            }
          ]
        }
      ]
    }
  ]
}
